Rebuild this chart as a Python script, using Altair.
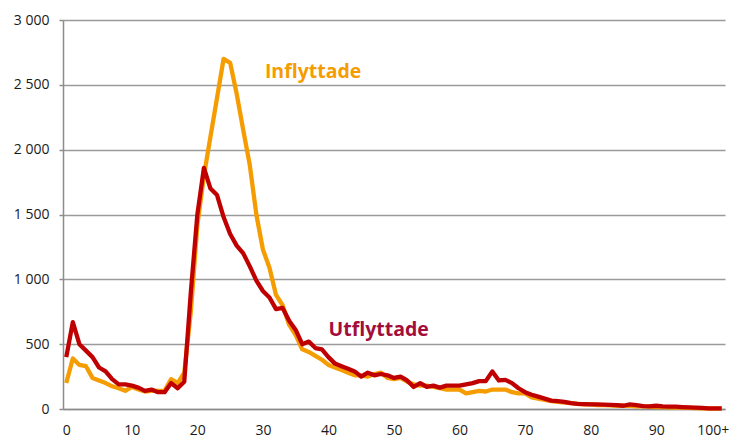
import altair as alt
import pandas as pd

ages = list(range(101))

inflyttade = [200, 390, 340, 330, 240, 220, 200, 175, 160, 140,
              170, 150, 135, 140, 140, 140, 230, 200, 280, 750,
              1420, 1800, 2100, 2400, 2700, 2670, 2430, 2150, 1880, 1500,
              1230, 1090, 880, 800, 650, 570, 460, 440, 410, 380,
              340, 320, 300, 280, 260, 260, 250, 270, 280, 240,
              230, 240, 210, 190, 180, 180, 170, 160, 150, 150,
              150, 120, 130, 140, 135, 150, 150, 150, 130, 120,
              120, 90, 80, 70, 60, 55, 50, 45, 40, 35,
              38, 30, 30, 28, 25, 25, 25, 20, 20, 18,
              15, 15, 12, 10, 10, 8, 6, 5, 4, 3, 3]

utflyttade = [400, 670, 500, 450, 400, 320, 290, 230, 190, 190,
              180, 165, 140, 150, 130, 130, 200, 160, 210, 900,
              1500, 1860, 1700, 1650, 1480, 1350, 1260, 1200, 1100, 990,
              910, 860, 770, 780, 680, 610, 500, 520, 470, 460,
              400, 350, 330, 310, 290, 250, 280, 260, 270, 260,
              240, 250, 220, 170, 200, 170, 180, 165, 180, 180,
              180, 190, 200, 215, 215, 290, 220, 225, 200, 160,
              130, 110, 95, 80, 65, 60, 55, 45, 40, 38,
              35, 35, 33, 32, 30, 25, 35, 30, 22, 20,
              25, 20, 18, 18, 15, 12, 10, 8, 5, 5, 5]

series = ["Inflyttade", "Utflyttade"]
line_colors = ["#F59C00", "#C00000"]
text_colors = ["#F59C00", "#A30D3A"]

x_ticks = [0, 10, 20, 30, 40, 50, 60, 70, 80, 90, 100]
y_grid = [0, 250, 500, 750, 1000, 1250, 1500, 1750, 2000, 2250, 2500, 2750, 3000]

label_age = [30.3, 40.0]
label_value = [2600, 610]

df = pd.DataFrame({
    "age": ages * 2,
    "value": inflyttade + utflyttade,
    "serie": [series[0]] * len(ages) + [series[1]] * len(ages),
})
labels = pd.DataFrame({"age": label_age, "value": label_value, "serie": series})

xscale = alt.Scale(domain=[-0.5, 100.5], nice=False, zero=False)
yscale = alt.Scale(domain=[0, 3000], nice=False)

major = "datum.value % 500 == 0"

lines = alt.Chart(df).mark_line(strokeWidth=4.3, strokeJoin="round").encode(
    x=alt.X("age:Q", scale=xscale, title=None,
            axis=alt.Axis(values=x_ticks, grid=False, ticks=False, tickSize=0,
                          labelPadding=14, domainColor="#8c8c8c", domainWidth=1.5,
                          labelBound=False,
                          labelOffset={"condition": {"test": "datum.value == 100", "value": -9}, "value": 0},
                          labelExpr="datum.value == 100 ? '100+' : datum.value")),
    y=alt.Y("value:Q", scale=yscale, title=None,
            axis=alt.Axis(values=y_grid, tickSize=4, tickColor="#8c8c8c", tickWidth=1.5,
                          tickOpacity={"condition": {"test": major, "value": 1}, "value": 0},
                          gridColor={"condition": {"test": major, "value": "#9a9a9a"}, "value": "#cccccc"},
                          gridWidth=1.4,
                          domainColor="#8c8c8c", domainWidth=1.5, labelPadding=10,
                          labelExpr=major + " ? replace(format(datum.value, ','), ',', ' ') : ''")),
    color=alt.Color("serie:N", scale=alt.Scale(domain=series, range=line_colors), legend=None),
    order=alt.Order("serie:N"),
)

texts = alt.Chart(labels).mark_text(align="left", baseline="middle", fontSize=19.5,
                                    fontWeight="bold", font="Open Sans").encode(
    x=alt.X("age:Q", scale=xscale),
    y=alt.Y("value:Q", scale=yscale),
    text="serie:N",
    color=alt.Color("serie:N", scale=alt.Scale(domain=series, range=text_colors), legend=None),
)

chart = alt.layer(lines, texts).resolve_scale(color="independent").properties(
    width=662, height=389,
    autosize=alt.AutoSizeParams(type="none"),
    padding={"left": 55, "top": 12, "right": 4, "bottom": 30},
).configure_axis(
    labelFont="Open Sans", labelFontSize=14, labelColor="#1a1a1a",
).configure_view(stroke=None)

chart.save("out.html", embed_options={"renderer": "svg", "actions": False})
